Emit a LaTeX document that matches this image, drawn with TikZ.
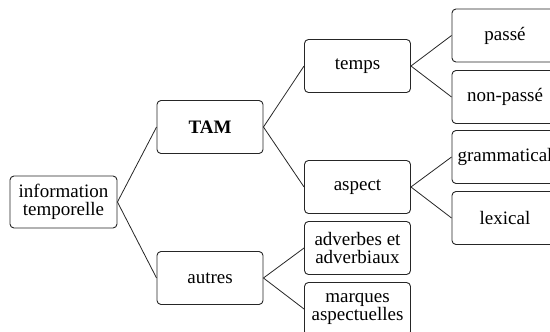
\documentclass[tikz,border=0pt]{standalone}
\usepackage{fontspec}
\setmainfont{Liberation Serif}
\usepackage{xcolor}
\usepackage{tikz}

\tikzset{
  box/.style={draw=black!85,line width=0.9pt,rounded corners=4pt,
    minimum width=106pt,minimum height=53pt,inner sep=0pt,
    align=center,font=\fontsize{19}{18}\selectfont},
  link/.style={draw=black!85,line width=0.8pt}
}

\begin{document}
\begin{tikzpicture}[x=1pt,y=-1pt]
\useasboundingbox (0,0) rectangle (550,332);
\clip (0,0) rectangle (550,332);
%
\node (info) at (63.5,202) [box,minimum width=107pt,minimum height=52pt] {information\\temporelle};
%
\node (tam) at (210,127) [box] {\textbf{TAM}};
\node (autres) at (210,278) [box] {autres};
%
\node (temps) at (357.5,66) [box] {temps};
\node (aspect) at (357.5,187) [box] {aspect};
\node (adv) at (357.5,248) [box] {adverbes et\\adverbiaux};
\node (marq) at (357.5,309) [box] {marques\\aspectuelles};
%
\node (passe) at (505,35.5) [box] {passé};
\node (nonpasse) at (505,97) [box] {non-passé};
\node (gram) at (505,157) [box] {grammatical};
\node (lex) at (505,218) [box] {lexical};
%%
\draw[link] (info.east) -- (tam.west);
\draw[link] (info.east) -- (autres.west);
%
\draw[link] (tam.east) -- (temps.west);
\draw[link] (tam.east) -- (aspect.west);
\draw[link] (autres.east) -- (adv.west);
\draw[link] (autres.east) -- (marq.west);
%
\draw[link] (temps.east) -- (passe.west);
\draw[link] (temps.east) -- (nonpasse.west);
\draw[link] (aspect.east) -- (gram.west);
\draw[link] (aspect.east) -- (lex.west);
\end{tikzpicture}
\end{document}
